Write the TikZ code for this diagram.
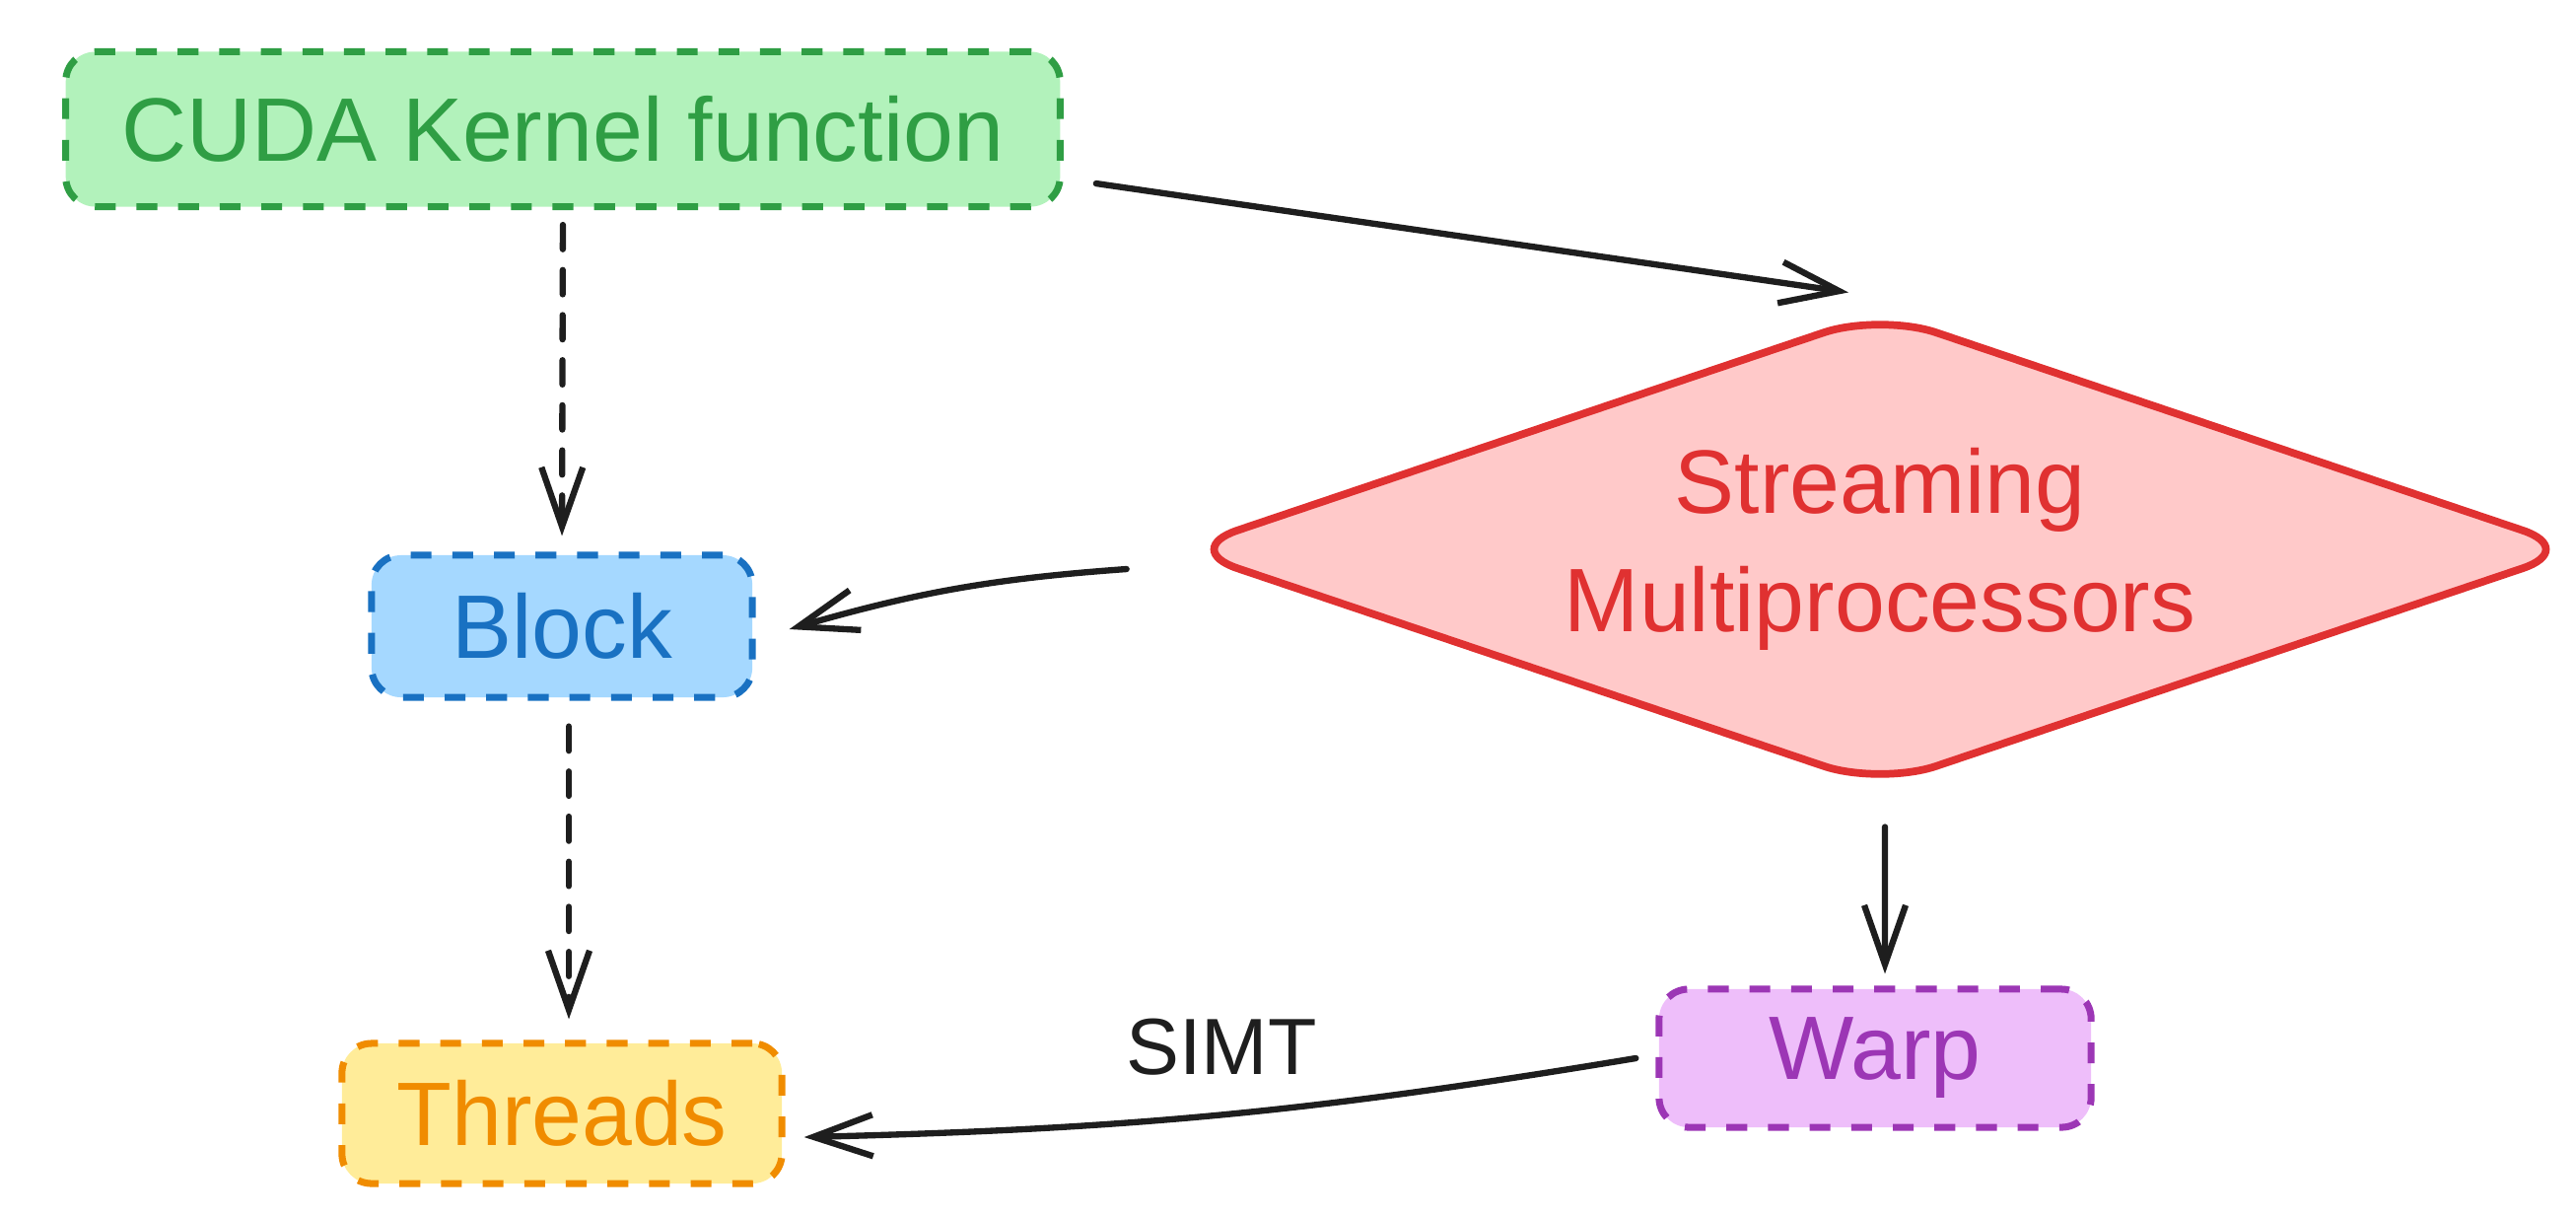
\documentclass[tikz,border=0pt]{standalone}
\usepackage{fontspec}
\setmainfont{Liberation Sans}
\usetikzlibrary{arrows.meta,shapes.geometric}
\definecolor{gstroke}{HTML}{2F9E44}
\definecolor{gfill}{HTML}{B2F2BB}
\definecolor{bstroke}{HTML}{1971C2}
\definecolor{bfill}{HTML}{A5D8FF}
\definecolor{ystroke}{HTML}{F08C00}
\definecolor{yfill}{HTML}{FFEC99}
\definecolor{pstroke}{HTML}{9C36B5}
\definecolor{pfill}{HTML}{EEBEFA}
\definecolor{rstroke}{HTML}{E03131}
\definecolor{rfill}{HTML}{FFC9C9}
\definecolor{ink}{HTML}{1E1E1E}
\begin{document}
\begin{tikzpicture}[x=0.01cm,y=-0.01cm,
  box/.style={rectangle, rounded corners=0.3cm, line width=2pt, dash pattern=on 6pt off 6pt, inner sep=0pt, font=\fontsize{26}{32}\selectfont},
  arr/.style={draw=ink, line width=1.8pt, line cap=round, -{Straight Barb[length=0.6cm,width=0.42cm]}},
  dsh/.style={arr, dash pattern=on 7pt off 6pt}]
\useasboundingbox (0,0) rectangle (2613,1233);
\node[box, draw=gstroke, fill=gfill, text=gstroke, minimum width=10.08cm, minimum height=1.57cm] (cuda) at (571,131) {CUDA Kernel function};
\node[box, draw=bstroke, fill=bfill, text=bstroke, minimum width=3.86cm, minimum height=1.44cm] (block) at (570,635) {Block};
\node[box, draw=ystroke, fill=yfill, text=ystroke, minimum width=4.46cm, minimum height=1.42cm] (threads) at (570,1129) {Threads};
\node[box, draw=pstroke, fill=pfill, text=pstroke, minimum width=4.38cm, minimum height=1.40cm] (warp) at (1902,1073) {Warp};
\node[diamond, aspect=2.96, draw=rstroke, fill=rfill, text=rstroke, line width=2.2pt, rounded corners=0.6cm, minimum width=14.2cm, minimum height=4.81cm, inner sep=0pt, align=center, font=\fontsize{26}{34}\selectfont] (sm) at (1907,557) {Streaming\\Multiprocessors};
\draw[arr] ([xshift=0.33cm,yshift=0.27cm]cuda.south east) -- ([xshift=-0.32cm,yshift=0.16cm]sm.north);
\draw[dsh, shorten <=0.15cm, shorten >=0.16cm] (cuda.south) -- (block.north);
\draw[arr] ([xshift=-0.5cm,yshift=-0.2cm]sm.west) to[bend right=6] ([xshift=0.34cm,yshift=-0.03cm]block.east);
\draw[dsh, shorten <=0.26cm, shorten >=0.21cm] ([xshift=0.07cm]block.south) -- ([xshift=0.07cm]threads.north);
\draw[arr, shorten <=0.37cm, shorten >=0.12cm] ([xshift=0.05cm]sm.south) -- ([xshift=0.1cm]warp.north);
\draw[arr] ([xshift=-0.2cm]warp.west) to[bend left=4] node[midway, above=0.25cm, text=ink, font=\fontsize{23}{27}\selectfont] (simt) {SIMT} ([xshift=0.19cm,yshift=-0.24cm]threads.east);
\end{tikzpicture}
\end{document}
